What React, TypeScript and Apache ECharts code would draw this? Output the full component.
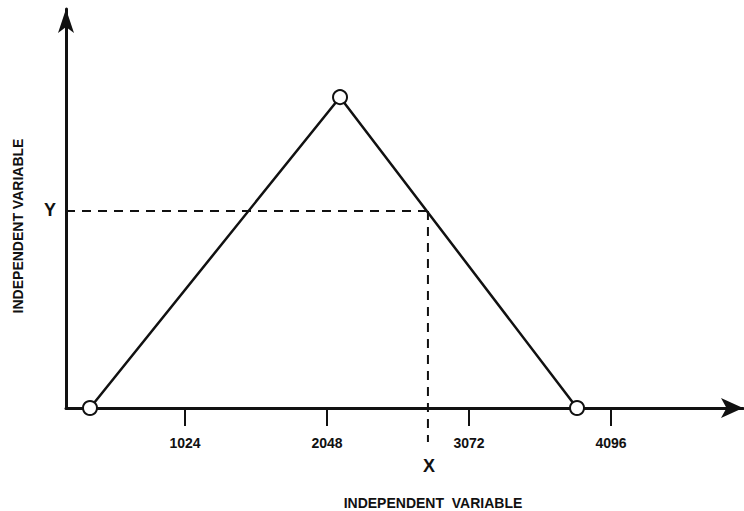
import React, { useEffect, useRef } from "react";
import * as echarts from "echarts";

// Triangular membership-like curve
const curveX = [339, 2142, 3851];
const curveY = [0, 77.9, 0];
const markerX = 2776;
const markerY = 49.4;
const markerBottom = -8.5;
const xTicks = [1024, 2048, 3072, 4096];
const xMin = 166;
const xMax = 5048;
const yMin = 0;
const yMax = 100;
const axisName = "INDEPENDENT  VARIABLE";
const yAxisName = "INDEPENDENT VARIABLE";
const xMarkLabel = "X";
const yMarkLabel = "Y";

const FONT = "'Liberation Sans', Arial, Helvetica, sans-serif";
const INK = "#111";

export default function App() {
  const ref = useRef<HTMLDivElement>(null);
  useEffect(() => {
    if (!ref.current) return;
    const chart = echarts.init(ref.current, null, { renderer: "svg" });
    chart.setOption({
      animation: false,
      backgroundColor: "#fff",
      grid: { left: 66, top: 9, right: 1, bottom: 103 },
      xAxis: {
        type: "value",
        min: xMin,
        max: xMax,
        splitLine: { show: false },
        axisLine: {
          onZero: false,
          lineStyle: { color: INK, width: 3 },
          symbol: ["none", "arrow"],
          symbolSize: [15, 22],
        },
        axisTick: {
          customValues: xTicks,
          length: 18,
          lineStyle: { color: INK, width: 2 },
        },
        axisLabel: {
          customValues: xTicks,
          margin: 28,
          color: INK,
          fontFamily: FONT,
          fontWeight: "bold",
          fontSize: 14,
          formatter: (v: number) => String(Math.round(v)),
        },
      },
      yAxis: {
        type: "value",
        min: yMin,
        max: yMax,
        splitLine: { show: false },
        axisTick: { show: false },
        axisLabel: { show: false },
        axisLine: {
          show: true,
          onZero: false,
          lineStyle: { color: INK, width: 3 },
          symbol: ["none", "arrow"],
          symbolSize: [12, 24],
        },
      },
      series: [
        {
          type: "line",
          data: [
            [xMin, markerY],
            [markerX, markerY],
          ],
          symbol: "none",
          lineStyle: { color: INK, width: 2, type: [9, 7] },
          z: 1,
        },
        {
          type: "line",
          clip: false,
          data: [
            [markerX, markerY],
            [markerX, markerBottom],
          ],
          symbol: "none",
          lineStyle: { color: INK, width: 2, type: [9, 7] },
          z: 1,
        },
        {
          type: "line",
          data: curveX.map((x, i) => [x, curveY[i]]),
          symbol: "circle",
          symbolSize: 14,
          clip: false,
          lineStyle: { color: INK, width: 2.5 },
          itemStyle: { color: "#fff", borderColor: INK, borderWidth: 2 },
          z: 5,
        },
      ],
      graphic: [
        {
          type: "text",
          x: 50,
          y: 210,
          style: {
            text: yMarkLabel,
            fill: INK,
            font: `bold 18px ${FONT}`,
            align: "center",
            verticalAlign: "middle",
          },
        },
        {
          type: "text",
          x: 429,
          y: 466,
          style: {
            text: xMarkLabel,
            fill: INK,
            font: `bold 18px ${FONT}`,
            align: "center",
            verticalAlign: "middle",
          },
        },
        {
          type: "text",
          x: 433,
          y: 503,
          style: {
            text: axisName,
            fill: INK,
            font: `bold 14px ${FONT}`,
            align: "center",
            verticalAlign: "middle",
          },
        },
        {
          type: "text",
          x: 18,
          y: 226,
          rotation: Math.PI / 2,
          style: {
            text: yAxisName,
            fill: INK,
            font: `bold 14px ${FONT}`,
            align: "center",
            verticalAlign: "middle",
          },
        },
      ],
    });
    return () => chart.dispose();
  }, []);
  return <div ref={ref} style={{ width: 744, height: 511, position: "absolute", left: 0, top: 0 }} />;
}
